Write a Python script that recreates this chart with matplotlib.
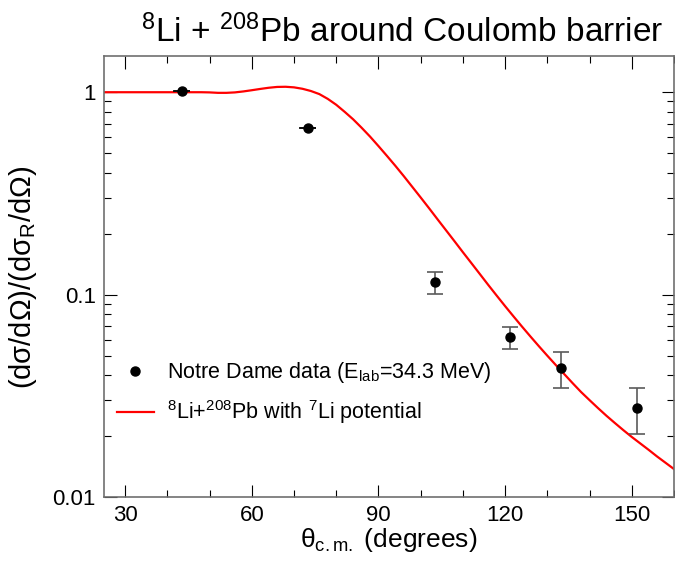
import matplotlib
matplotlib.use("Agg")
import matplotlib.pyplot as plt
from matplotlib.lines import Line2D
from matplotlib.ticker import FixedLocator, MultipleLocator, NullFormatter

plt.rcParams["font.family"] = ["Liberation Sans", "DejaVu Sans"]
plt.rcParams["mathtext.fontset"] = "custom"
plt.rcParams["mathtext.rm"] = "Liberation Sans"
plt.rcParams["mathtext.it"] = "Liberation Sans"
plt.rcParams["mathtext.default"] = "regular"

# Notre Dame data
theta_data = [43.4, 73.3, 103.4, 121.2, 133.3, 151.2]
ratio_data = [1.01, 0.668, 0.115, 0.0615, 0.0433, 0.0274]
err_low = [0.0, 0.0, 0.014, 0.0075, 0.0086, 0.0069]
err_high = [0.0, 0.0, 0.014, 0.0075, 0.0087, 0.0071]
theta_err = [2.0, 2.0, 0.0, 0.0, 0.0, 0.0]

# calculation with 7Li potential
theta_calc = [25, 30, 35, 40, 45, 48, 50, 52, 54, 56, 58, 60, 62, 64, 66, 68,
              70, 72, 74, 76, 78, 80, 82, 84, 86, 88, 90, 92, 94, 96, 98, 100,
              102, 104, 106, 108, 110, 112, 114, 116, 118, 120, 122, 124, 126,
              128, 130, 132, 134, 136, 138, 140, 142, 144, 146, 148, 150, 152,
              154, 156, 158, 160]
ratio_calc = [1.0, 1.0, 1.0, 1.0, 1.0, 1.0, 0.998, 0.993, 0.993, 0.998, 1.009,
              1.023, 1.038, 1.052, 1.062, 1.064, 1.057, 1.040, 1.014, 0.979,
              0.927, 0.867, 0.800, 0.735, 0.668, 0.604, 0.542, 0.485, 0.433,
              0.385, 0.341, 0.302, 0.267, 0.2355, 0.208, 0.1837, 0.162, 0.1432,
              0.1265, 0.1117, 0.0989, 0.0877, 0.0780, 0.0695, 0.0621, 0.0556,
              0.0499, 0.0449, 0.0405, 0.0365, 0.0330, 0.0301, 0.0275, 0.0252,
              0.0232, 0.0214, 0.0198, 0.0184, 0.0171, 0.01585, 0.01476, 0.01374]

fig = plt.figure(figsize=(6.75, 5.63), dpi=100)
ax = fig.add_axes([104 / 675, 66 / 563, 570 / 675, 441 / 563])

ax.plot(theta_calc, ratio_calc, color="red", lw=1.6, zorder=2)
ax.errorbar(theta_data, ratio_data, yerr=[err_low, err_high], fmt="none",
            ecolor="#5a5a5a", elinewidth=1.2, capsize=6, capthick=1.2, zorder=3)
ax.errorbar(theta_data, ratio_data, xerr=theta_err, fmt="none",
            ecolor="black", elinewidth=1.2, capsize=0, zorder=3)
ax.plot(theta_data, ratio_data, "o", color="black", ms=6.5, zorder=4)

ax.set_xlim(25, 160)
ax.set_yscale("log")
ax.set_ylim(0.01, 1.51)

ax.xaxis.set_major_locator(MultipleLocator(30))
ax.xaxis.set_minor_locator(MultipleLocator(10))
ax.yaxis.set_major_locator(FixedLocator([0.01, 0.1, 1]))
ax.set_yticklabels(["0.01", "0.1", "1"])
minors = [m * 10.0 ** e for e in (-2, -1, 0) for m in range(2, 10)]
ax.yaxis.set_minor_locator(FixedLocator(minors))
ax.yaxis.set_minor_formatter(NullFormatter())

ax.tick_params(which="both", direction="in", top=True, right=True,
               labelsize=16, width=0.8, color="black")
ax.tick_params(which="major", length=9, pad=6)
ax.tick_params(which="minor", length=4.8)
for s in ax.spines.values():
    s.set_color("#6f6f6f")
    s.set_linewidth(1.2)

ax.set_xlabel(r"θ$_{c.m.}$ (degrees)", fontsize=19, labelpad=0)
fig.text(23 / 675, 1 - 277 / 563, r"(dσ/dΩ)/(dσ$_{R}$/dΩ)", fontsize=21,
         rotation=90, ha="center", va="center")
fig.text(402 / 675, 1 - 32 / 563, r"$^{8}$Li + $^{208}$Pb around Coulomb barrier",
         fontsize=24, ha="center", va="center")

handles = [Line2D([], [], ls="none", marker="o", color="black", ms=6.5),
           Line2D([], [], color="red", lw=1.6)]
labels = [r"Notre Dame data (E$_{lab}$=34.3 MeV)",
          r"$^{8}$Li+$^{208}$Pb with $^{7}$Li potential"]
ax.legend(handles, labels, loc="center left", bbox_to_anchor=(0.022, 0.235),
          frameon=False, fontsize=15.5, handlelength=1.75, handletextpad=0.6,
          labelspacing=0.6, borderpad=0, borderaxespad=0)

fig.savefig("out.png", dpi=100)
